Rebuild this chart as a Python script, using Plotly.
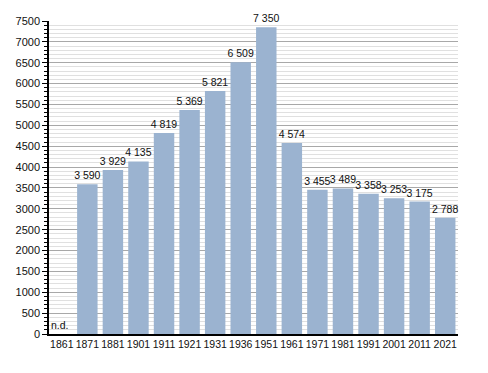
import plotly.graph_objects as go

years = ["1861", "1871", "1881", "1901", "1911", "1921", "1931", "1936", "1951",
         "1961", "1971", "1981", "1991", "2001", "2011", "2021"]
population = [None, 3590, 3929, 4135, 4819, 5369, 5821, 6509, 7350,
              4574, 3455, 3489, 3358, 3253, 3175, 2788]
labels = ["" if v is None else f"{v:,}".replace(",", " ") for v in population]

FONT = "Liberation Sans, Arial, sans-serif"

fig = go.Figure()
fig.add_trace(go.Bar(
    x=years, y=population, text=labels, textposition="outside",
    constraintext="none",
    textfont=dict(size=10.5, color="#111", family=FONT), cliponaxis=False,
    marker=dict(color="#9bb3d0", line=dict(width=0)), width=0.8,
))
fig.add_annotation(x=0, y=0, text="n.d.", showarrow=False,
                   yanchor="bottom", xshift=-2, yshift=1,
                   font=dict(size=10.5, color="#111", family=FONT))
# page body has an 8px margin, so the figure is shrunk and margins offset
fig.update_layout(
    width=480, height=365, margin=dict(l=41, r=30, t=13, b=39),
    paper_bgcolor="white", plot_bgcolor="white", showlegend=False,
    font=dict(family=FONT, size=10.5, color="#111"),
    bargap=0.2,
)
fig.update_xaxes(type="category", range=[-0.5, len(years) - 0.5],
                 showline=True, linecolor="black", linewidth=1.5,
                 ticks="", showgrid=False, tickangle=0, automargin=False,
                 tickfont=dict(size=10.5))
fig.update_yaxes(range=[0, 7500], dtick=500, showline=True, linecolor="black",
                 linewidth=1.5, ticks="outside", ticklen=5, tickcolor="black",
                 showgrid=True, gridcolor="#a8a8a8", gridwidth=1, zeroline=False,
                 automargin=False, tickfont=dict(size=11),
                 minor=dict(dtick=100, ticks="outside", ticklen=3, tickcolor="black",
                            showgrid=True, gridcolor="#e0e0e0", gridwidth=1))
fig.write_html("out.html")
